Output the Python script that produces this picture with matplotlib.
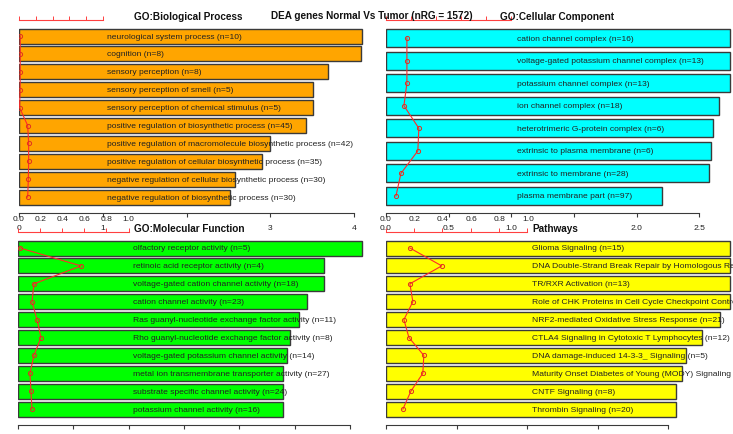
import numpy as np
import matplotlib
matplotlib.use("Agg")
import matplotlib.pyplot as plt

plt.rcParams['font.family'] = ['Liberation Sans', 'DejaVu Sans']

W, H = 733, 435

main_title = "DEA genes Normal Vs Tumor (nRG = 1572)"

# GO:Biological Process
bp_terms = ["neurological system process (n=10)",
            "cognition (n=8)",
            "sensory perception (n=8)",
            "sensory perception of smell (n=5)",
            "sensory perception of chemical stimulus (n=5)",
            "positive regulation of biosynthetic process (n=45)",
            "positive regulation of macromolecule biosynthetic process (n=42)",
            "positive regulation of cellular biosynthetic process (n=35)",
            "negative regulation of cellular biosynthetic process (n=30)",
            "negative regulation of biosynthetic process (n=30)"]
bp_score = [4.10, 4.08, 3.69, 3.51, 3.51, 3.43, 3.00, 2.90, 2.58, 2.52]
bp_ratio = [0.011, 0.011, 0.011, 0.010, 0.005, 0.079, 0.088, 0.088, 0.085, 0.079]

# GO:Cellular Component
cc_terms = ["cation channel complex (n=16)",
            "voltage-gated potassium channel complex (n=13)",
            "potassium channel complex (n=13)",
            "ion channel complex (n=18)",
            "heterotrimeric G-protein complex (n=6)",
            "extrinsic to plasma membrane (n=6)",
            "extrinsic to membrane (n=28)",
            "plasma membrane part (n=97)"]
cc_score = [2.745, 2.745, 2.745, 2.658, 2.61, 2.594, 2.578, 2.203]
cc_ratio = [0.147, 0.147, 0.147, 0.126, 0.231, 0.224, 0.105, 0.070]

# GO:Molecular Function
mf_terms = ["olfactory receptor activity (n=5)",
            "retinoic acid receptor activity (n=4)",
            "voltage-gated cation channel activity (n=18)",
            "cation channel activity (n=23)",
            "Ras guanyl-nucleotide exchange factor activity (n=11)",
            "Rho guanyl-nucleotide exchange factor activity (n=8)",
            "voltage-gated potassium channel activity (n=14)",
            "metal ion transmembrane transporter activity (n=27)",
            "substrate specific channel activity (n=24)",
            "potassium channel activity (n=16)"]
mf_score = [6.22, 5.53, 5.53, 5.23, 5.08, 4.92, 4.86, 4.79, 4.79, 4.79]
mf_ratio = [0.018, 0.573, 0.145, 0.127, 0.173, 0.209, 0.145, 0.109, 0.118, 0.127]

# Pathways
pw_terms = ["Glioma Signaling (n=15)",
            "DNA Double-Strand Break Repair by Homologous Recombination (n=4)",
            "TR/RXR Activation (n=13)",
            "Role of CHK Proteins in Cell Cycle Checkpoint Control (n=8)",
            "NRF2-mediated Oxidative Stress Response (n=21)",
            "CTLA4 Signaling in Cytotoxic T Lymphocytes (n=12)",
            "DNA damage-induced 14-3-3_ Signaling (n=5)",
            "Maturity Onset Diabetes of Young (MODY) Signaling (n=5)",
            "CNTF Signaling (n=8)",
            "Thrombin Signaling (n=20)"]
pw_score = [4.88, 4.88, 4.88, 4.88, 4.74, 4.48, 4.26, 4.20, 4.11, 4.11]
pw_ratio = [0.168, 0.392, 0.168, 0.189, 0.126, 0.161, 0.266, 0.259, 0.175, 0.119]

# axis ticks for the bar (score) scale
bp_ticks, bp_ticklabels = [0, 1, 2, 3, 4], ["0", "1", "", "3", "4"]
cc_ticks, cc_ticklabels = [0, 0.5, 1.0, 1.5, 2.0, 2.5], ["0.0", "0.5", "1.0", "", "2.0", "2.5"]
mf_ticks = [0, 1, 2, 3, 4, 5, 6]
pw_ticks = [0, 1, 2, 3, 4]
ratio_ticks = [0.0, 0.2, 0.4, 0.6, 0.8, 1.0]
ratio_ticklabels = ["0.0", "0.2", "0.4", "0.6", "0.8", "1.0"]

FS = 6.1
EDGE = '#3a3a3a'


def draw_panel(fig, terms, score, ratio, color, ticks, ticklabels, lay):
    x0, right = lay['x0'], lay['right']
    top, bot = lay['top'], lay['bottom']
    ax = fig.add_axes([x0 / W, 1 - bot / H, (right - x0) / W, (bot - top) / H])
    ax.set_xlim(0, (right - x0) / lay['ppu'])
    n = len(terms)
    pos = np.arange(n)
    sp = lay['spacing']
    ax.set_ylim(n - 1 + (bot - lay['c0'] - (n - 1) * sp) / sp, -(lay['c0'] - top) / sp)
    ax.barh(pos, score, height=lay['bar_h'] / sp, color=color,
            edgecolor=EDGE, linewidth=1.0)
    tx = (lay['text_x'] - x0) / lay['ppu']
    for i, t in enumerate(terms):
        ax.text(tx, i, t, va='center', ha='left', fontsize=FS, color='#222222',
                clip_on=False)

    for s in ['left', 'right', 'top']:
        ax.spines[s].set_visible(False)
    ax.spines['bottom'].set_bounds(ticks[0], ticks[-1])
    ax.spines['bottom'].set_color(EDGE)
    ax.spines['bottom'].set_linewidth(0.8)
    ax.set_yticks([])
    ax.set_xticks(ticks)
    if ticklabels is not None:
        ax.set_xticklabels(ticklabels)
    ax.tick_params(axis='x', length=3, width=0.8, color=EDGE, labelsize=FS,
                   pad=5.0, labelcolor='#222222',
                   labelbottom=ticklabels is not None)

    # small red scale along the top
    sec = ax.secondary_xaxis('top')
    sec.set_xticks(np.linspace(0, lay['red_max'], 6))
    sec.tick_params(axis='x', length=3, width=0.7, color='#ff4040',
                    labeltop=False)
    sec.spines['top'].set_color('#ff4040')
    sec.spines['top'].set_linewidth(0.8)
    sec.spines['top'].set_bounds(0, lay['red_max'])

    # ratio line on its own x scale
    tw = ax.twiny()
    rx0, rppu = lay['rx0'], lay['rppu']
    tw.set_xlim((x0 - rx0) / rppu, (right - rx0) / rppu)
    tw.plot(ratio, pos, color='#ff2a2a', lw=0.8, marker='o', ms=3,
            mfc='none', mec='#e03020', mew=0.7)
    for s in tw.spines.values():
        s.set_visible(False)
    tw.xaxis.tick_bottom()
    tw.set_xticks(ratio_ticks)
    tw.set_xticklabels(ratio_ticklabels)
    tw.tick_params(axis='x', length=0, pad=1.2, labelsize=FS, labelcolor='#222222',
                   labelbottom=ticklabels is not None)
    return ax


fig = plt.figure(figsize=(W / 100, H / 100), dpi=100)

left_ratio = dict(rx0=18, rppu=110)
right_ratio = dict(rx0=384, rppu=143)

draw_panel(fig, bp_terms, bp_score, bp_ratio, '#ffa500', bp_ticks, bp_ticklabels,
           dict(x0=19, right=366, ppu=83.75, top=21, bottom=214, c0=37,
                spacing=17.9, bar_h=15, text_x=107, red_max=1.0, **left_ratio))
draw_panel(fig, cc_terms, cc_score, cc_ratio, '#00ffff', cc_ticks, cc_ticklabels,
           dict(x0=386, right=733, ppu=125.3, top=21, bottom=214, c0=39,
                spacing=22.57, bar_h=18, text_x=517, red_max=1.0, **right_ratio))
# the lower panels' axis labels fall below the bottom edge of the figure
draw_panel(fig, mf_terms, mf_score, mf_ratio, '#00ff00', mf_ticks, None,
           dict(x0=18, right=366, ppu=55.3, top=233, bottom=426, c0=249,
                spacing=17.9, bar_h=15, text_x=133, red_max=2.0, **left_ratio))
draw_panel(fig, pw_terms, pw_score, pw_ratio, '#ffff00', pw_ticks, None,
           dict(x0=386, right=733, ppu=70.5, top=233, bottom=426, c0=249,
                spacing=17.9, bar_h=15, text_x=532, red_max=2.0, **right_ratio))

titles = [("GO:Biological Process", 188, 17),
          ("GO:Cellular Component", 557, 17),
          ("GO:Molecular Function", 189, 229),
          ("Pathways", 555, 229),
          (main_title, 372, 16)]
for txt, px, py in titles:
    fig.text(px / W, 1 - py / H, txt, ha='center', va='center',
             fontsize=7.2, fontweight='bold', color='#111111')

fig.savefig("out.png", dpi=100)
